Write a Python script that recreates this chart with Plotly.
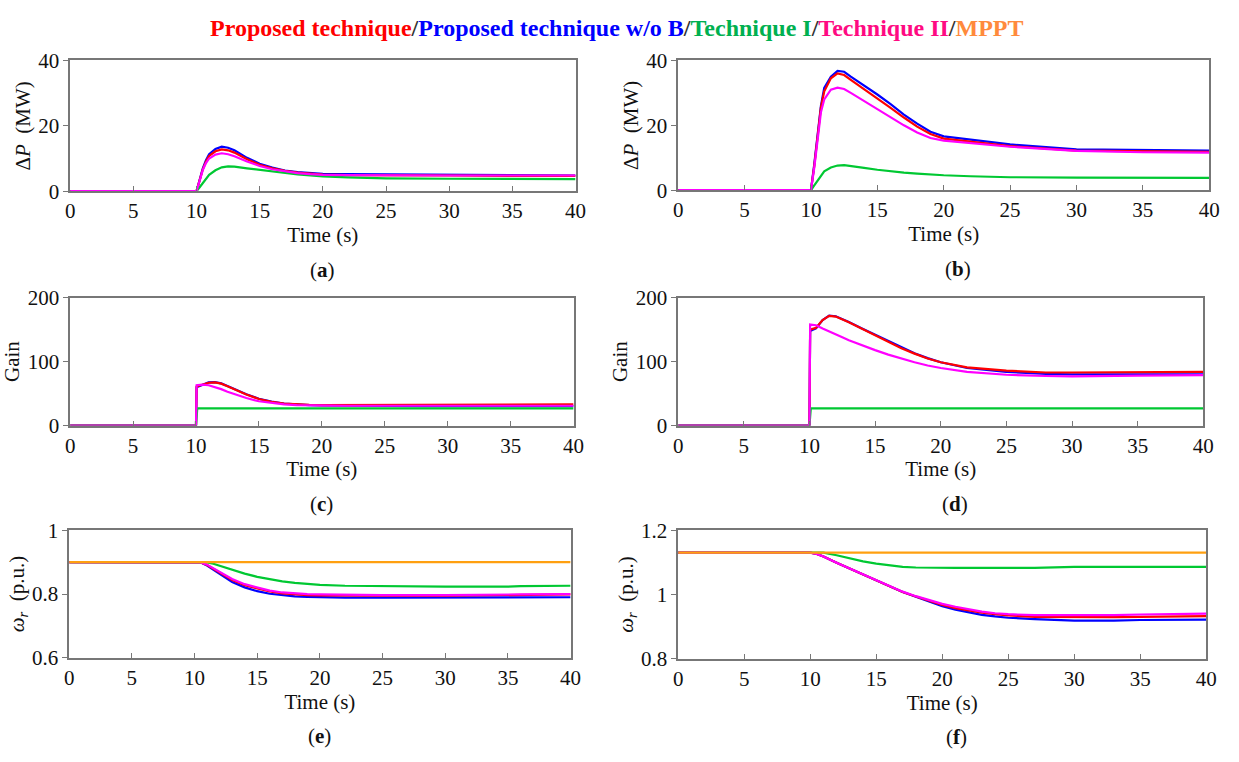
import plotly.graph_objects as go

# ---------------- data ----------------
T_P = [0, 10, 10.25, 10.5, 10.75, 11, 11.5, 12, 12.5, 13, 14, 15, 16, 17, 18, 19, 20, 22, 25, 30, 35, 40]
A_BLUE = [0, 0, 3.5, 7, 9.5, 11.3, 12.9, 13.6, 13.3, 12.5, 10.2, 8.4, 7.2, 6.3, 5.8, 5.5, 5.3, 5.2, 5.1, 5.1, 4.9, 4.8]
A_RED = [0, 0, 3.3, 6.7, 9.0, 10.8, 12.2, 12.8, 12.5, 11.8, 9.8, 8.1, 7.0, 6.2, 5.7, 5.3, 5.1, 4.9, 4.8, 4.8, 4.7, 4.7]
A_MAG = [0, 0, 3.2, 6.5, 8.6, 10.0, 11.2, 11.6, 11.3, 10.7, 9.1, 7.7, 6.7, 6.0, 5.5, 5.2, 5.0, 4.9, 4.8, 4.8, 4.8, 4.8]
A_GRN = [0, 0, 1.2, 2.5, 3.8, 5.0, 6.4, 7.3, 7.6, 7.5, 7.0, 6.5, 6.0, 5.5, 5.1, 4.8, 4.5, 4.2, 3.9, 3.8, 3.7, 3.7]

B_BLUE = [0, 0, 8, 17, 26, 31.5, 35, 36.8, 36.5, 35, 32.3, 29.5, 26.5, 23.3, 20.5, 18, 16.6, 15.6, 14.1, 12.6, 12.3, 12.2]
B_RED = [0, 0, 7.5, 16.5, 25.5, 30.5, 34.5, 36, 35.5, 34, 31.2, 28.3, 25.4, 22.4, 19.6, 17.3, 15.9, 15.0, 13.6, 12.2, 11.9, 11.8]
B_MAG = [0, 0, 7, 16, 24, 28, 31, 31.6, 31.2, 30, 27.5, 25, 22.5, 20, 17.8, 16.1, 15.3, 14.6, 13.4, 12.1, 11.7, 11.6]
B_GRN = [0, 0, 1.5, 3, 4.5, 5.8, 7, 7.6, 7.7, 7.5, 6.9, 6.3, 5.8, 5.4, 5.1, 4.8, 4.6, 4.3, 4.0, 3.9, 3.8, 3.8]

T_G = [0, 10, 10.05, 10.5, 11, 11.5, 12, 12.5, 13, 14, 15, 16, 17, 18, 19, 20, 22, 25, 28, 30, 35, 40]
C_BLUE = [0, 0, 60, 64, 67.5, 68, 66, 62, 57.5, 49, 42, 37.5, 34.5, 33, 32, 31.5, 31, 30.5, 30.5, 30.5, 30.5, 30.5]
C_RED = [0, 0, 61, 64, 67, 67.5, 65.5, 61.5, 57, 48.5, 41.5, 37, 34.5, 33, 32.5, 32, 32, 32, 32.5, 32.5, 33, 33]
C_MAG = [0, 0, 63, 64, 63, 60.5, 57, 53, 49.5, 43, 38, 35, 33, 32, 31.5, 31, 31, 31, 31, 31, 31, 31]
T_GRN_GAIN = [0, 10, 10.1, 40]
C_GRN = [0, 0, 26.8, 26.8]

D_BLUE = [0, 0, 148, 152, 165, 172, 171, 167, 162, 152, 142, 132, 122, 113, 105.5, 99, 90, 84, 81, 80, 80, 80]
D_RED = [0, 0, 150, 153, 165, 171.5, 170.5, 166.5, 161.5, 151.5, 141, 131, 121, 112.5, 105, 99, 91, 86, 83, 83, 83.5, 84]
D_MAG = [0, 0, 158, 157, 152, 147, 142.5, 138, 133.5, 125.5, 118, 111, 104.5, 99, 94, 90, 84, 79.5, 77.5, 77, 78, 79]
D_GRN = [0, 0, 26.8, 26.8]

T_E = [0, 10, 10.5, 11, 11.5, 12, 12.5, 13, 14, 15, 16, 17, 18, 19, 20, 22, 25, 30, 35, 36, 40]
E_BLUE = [0.9, 0.9, 0.899, 0.889, 0.876, 0.862, 0.849, 0.838, 0.821, 0.809, 0.801, 0.796, 0.793, 0.791, 0.79, 0.789, 0.789, 0.789, 0.79, 0.79, 0.79]
E_RED = [0.9, 0.9, 0.899, 0.891, 0.879, 0.866, 0.854, 0.844, 0.828, 0.817, 0.808, 0.802, 0.799, 0.797, 0.796, 0.795, 0.795, 0.795, 0.796, 0.798, 0.799]
E_MAG = [0.9, 0.9, 0.899, 0.892, 0.881, 0.868, 0.857, 0.847, 0.831, 0.82, 0.811, 0.805, 0.802, 0.8, 0.799, 0.798, 0.797, 0.797, 0.797, 0.799, 0.8]
E_GRN = [0.9, 0.9, 0.9, 0.899, 0.895, 0.889, 0.882, 0.875, 0.864, 0.854, 0.846, 0.84, 0.835, 0.832, 0.829, 0.826, 0.824, 0.823, 0.823, 0.825, 0.826]
T_MPPT = [0, 40]
E_MPPT = [0.9, 0.9]

T_F = [0, 10, 10.5, 11, 12, 13, 14, 15, 16, 17, 18, 19, 20, 21, 22, 23, 24, 25, 27, 30, 33, 35, 40]
F_BLUE = [1.13, 1.13, 1.126, 1.118, 1.099, 1.081, 1.062, 1.044, 1.026, 1.008, 0.993, 0.978, 0.964, 0.953, 0.944, 0.937, 0.932, 0.928, 0.924, 0.919, 0.919, 0.921, 0.922]
F_RED = [1.13, 1.13, 1.126, 1.118, 1.099, 1.081, 1.062, 1.044, 1.026, 1.008, 0.994, 0.98, 0.968, 0.958, 0.95, 0.944, 0.939, 0.935, 0.931, 0.93, 0.93, 0.931, 0.933]
F_MAG = [1.13, 1.13, 1.126, 1.118, 1.099, 1.081, 1.062, 1.044, 1.026, 1.009, 0.995, 0.982, 0.971, 0.962, 0.954, 0.947, 0.942, 0.939, 0.936, 0.935, 0.936, 0.938, 0.941]
F_GRN = [1.13, 1.13, 1.13, 1.13, 1.122, 1.112, 1.103, 1.096, 1.09, 1.086, 1.084, 1.083, 1.083, 1.083, 1.083, 1.083, 1.083, 1.083, 1.083, 1.086, 1.086, 1.086, 1.086]
F_MPPT = [1.13, 1.13]

X_TICKS = [0, 5, 10, 15, 20, 25, 30, 35, 40]
Y_TICKS_P = [0, 20, 40]
Y_TICKS_G = [0, 100, 200]
Y_TICKS_E = [0.6, 0.8, 1.0]
Y_TEXT_E = ["0.6", "0.8", "1"]
Y_TICKS_F = [0.8, 1.0, 1.2]
Y_TEXT_F = ["0.8", "1", "1.2"]
PANEL_LABELS = ["a", "b", "c", "d", "e", "f"]

# ---------------- style ----------------
RED = "#ff0000"
BLUE = "#0000ff"
GREEN = "#00c832"
MAG = "#ff00ff"
ORANGE = "#ffa010"
FONT = "Liberation Serif"
AXC = "#777777"
FS = 21

fig = go.Figure()


def add(x, y, color, n):
    fig.add_trace(go.Scatter(x=x, y=y, mode="lines", line=dict(color=color, width=2.2),
                             xaxis="x" + ("" if n == 1 else str(n)),
                             yaxis="y" + ("" if n == 1 else str(n)),
                             showlegend=False, hoverinfo="skip"))


# panel a
add(T_P, A_BLUE, BLUE, 1); add(T_P, A_RED, RED, 1); add(T_P, A_GRN, GREEN, 1); add(T_P, A_MAG, MAG, 1)
# panel b
add(T_P, B_BLUE, BLUE, 2); add(T_P, B_RED, RED, 2); add(T_P, B_GRN, GREEN, 2); add(T_P, B_MAG, MAG, 2)
# panel c
add(T_G, C_BLUE, BLUE, 3); add(T_G, C_RED, RED, 3); add(T_GRN_GAIN, C_GRN, GREEN, 3); add(T_G, C_MAG, MAG, 3)
# panel d
add(T_G, D_BLUE, BLUE, 4); add(T_G, D_RED, RED, 4); add(T_GRN_GAIN, D_GRN, GREEN, 4); add(T_G, D_MAG, MAG, 4)
# panel e
add(T_E, E_BLUE, BLUE, 5); add(T_E, E_RED, RED, 5); add(T_E, E_GRN, GREEN, 5); add(T_E, E_MAG, MAG, 5)
add(T_MPPT, E_MPPT, ORANGE, 5)
# panel f
add(T_F, F_BLUE, BLUE, 6); add(T_F, F_RED, RED, 6); add(T_F, F_GRN, GREEN, 6); add(T_F, F_MAG, MAG, 6)
add(T_MPPT, F_MPPT, ORANGE, 6)

W, H = 1239, 762
# plot-area pixel boxes (left, right, top, bottom)
boxes = [
    (66, 578, 50, 185), (682, 1220, 50, 184),
    (66, 576, 295, 427), (682, 1214, 295, 427),
    (65, 573, 535, 667), (682, 1217, 535, 668),
]
yranges = [(0, 40), (0, 40), (0, 200), (0, 200), (0.6, 1.0), (0.8, 1.2)]
ytv = [Y_TICKS_P, Y_TICKS_P, Y_TICKS_G, Y_TICKS_G, Y_TICKS_E, Y_TICKS_F]
ytt = [None, None, None, None, Y_TEXT_E, Y_TEXT_F]
ytitles = ["Δ<i>P</i>  (MW)", "Δ<i>P</i>  (MW)", "Gain", "Gain",
           "<i>ω<sub>r</sub></i>  (p.u.)", "<i>ω<sub>r</sub></i>  (p.u.)"]

layout = dict(width=W, height=H, margin=dict(l=0, r=0, t=0, b=0),
              paper_bgcolor="white", plot_bgcolor="white",
              font=dict(family=FONT, size=FS, color="#111111"))
annotations = []
for i, (l, r, t, b) in enumerate(boxes):
    n = i + 1
    xs = "" if n == 1 else str(n)
    xd = [l / W, r / W]
    yd = [1 - b / H, 1 - t / H]
    layout["xaxis" + xs] = dict(
        domain=xd, anchor="y" + xs, range=[0, 40], tickvals=X_TICKS,
        ticks="inside", ticklen=5, tickcolor=AXC, showgrid=False, zeroline=False,
        showline=True, linecolor=AXC, linewidth=1.5, mirror=True,
        tickfont=dict(family=FONT, size=FS, color="#111"),
        title=dict(text="Time (s)", font=dict(family=FONT, size=FS, color="#111"), standoff=3),
        fixedrange=True)
    ya = dict(
        domain=yd, anchor="x" + xs, range=list(yranges[i]), tickvals=ytv[i],
        ticks="outside", ticklen=5, tickcolor=AXC, showgrid=False, zeroline=False,
        showline=True, linecolor=AXC, linewidth=1.5, mirror=True,
        tickfont=dict(family=FONT, size=FS, color="#111"),
        title=dict(text=ytitles[i], font=dict(family=FONT, size=FS, color="#111"), standoff=2),
        fixedrange=True)
    if ytt[i] is not None:
        ya["ticktext"] = ytt[i]
    layout["yaxis" + xs] = ya
    # panel letter
    cy = b + 81
    annotations.append(dict(text="(<b>%s</b>)" % PANEL_LABELS[i], x=(l + r) / 2 / W + 0.012 * (1 if i % 2 else 0),
                            y=1 - cy / H, xref="paper", yref="paper", showarrow=False,
                            font=dict(family=FONT, size=FS, color="#111"), xanchor="center", yanchor="middle"))

title_html = ("<span style='color:#ff0000'>Proposed technique</span>/"
              "<span style='color:#0000ff'>Proposed technique w/o B</span>/"
              "<span style='color:#00b050'>Technique I</span>/"
              "<span style='color:#ff0a82'>Technique II</span>/"
              "<span style='color:#ff8a3c'>MPPT</span>")
annotations.append(dict(text="<b>" + title_html + "</b>", x=620 / W, y=1 - 17 / H, xref="paper", yref="paper",
                        showarrow=False, xanchor="center", yanchor="middle",
                        font=dict(family=FONT, size=24, color="#333333")))
layout["annotations"] = annotations
fig.update_layout(**layout)
fig.write_html("out.html",
               post_script="document.body.style.margin='0';document.body.style.overflow='hidden';")
